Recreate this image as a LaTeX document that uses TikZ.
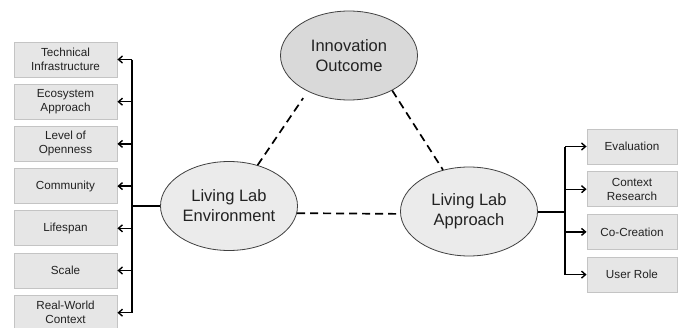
\documentclass[tikz,border=0pt]{standalone}
\usepackage{fontspec}
\setmainfont{Liberation Sans}
\usetikzlibrary{shapes.geometric,arrows.meta}
\definecolor{boxfill}{HTML}{E6E6E6}
\definecolor{boxedge}{HTML}{C4C4C4}
\definecolor{innfill}{HTML}{D9D9D9}
\definecolor{ellfill}{HTML}{EBEBEB}
\definecolor{elledge}{HTML}{404040}
\definecolor{txt}{HTML}{222222}
\begin{document}
\begin{tikzpicture}[x=1pt,y=-1pt,
  box/.style={draw=boxedge, fill=boxfill, line width=0.9pt, minimum height=35pt,
    inner sep=0pt, align=center, font=\fontsize{11.7}{14}\selectfont, text=txt},
  lbox/.style={box, minimum width=103pt},
  rbox/.style={box, minimum width=90pt},
  ell/.style={ellipse, draw=elledge, line width=0.8pt, fill=ellfill, inner sep=0pt,
    minimum width=137pt, minimum height=89pt, align=center,
    font=\fontsize{16.5}{20}\selectfont, text=txt},
  bus/.style={line width=1.6pt, black},
  arr/.style={line width=1.4pt, black, -{Straight Barb[length=4pt,width=7pt]}},
  link/.style={line width=1.7pt, black, dash pattern=on 8pt off 5pt}]
\clip (0,0) rectangle (678,327);
\fill[white] (0,0) rectangle (678,327);
% ellipses
\node[ell, fill=innfill] (inn) at (349,55.5) {Innovation\\Outcome};
\node[ell] (env) at (229,206) {Living Lab\\Environment};
\node[ell] (app) at (469,211.5) {Living Lab\\Approach};
% left boxes
\node[lbox] (l1) at (65.5,59.5) {Technical\\Infrastructure};
\node[lbox] (l2) at (65.5,101.7) {Ecosystem\\Approach};
\node[lbox] (l3) at (65.5,143.9) {Level of\\Openness};
\node[lbox] (l4) at (65.5,186.1) {Community};
\node[lbox] (l5) at (65.5,228.3) {Lifespan};
\node[lbox] (l6) at (65.5,270.5) {Scale};
\node[lbox] (l7) at (65.5,312.7) {Real-World\\Context};
% right boxes
\node[rbox] (r1) at (632,146.5) {Evaluation};
\node[rbox] (r2) at (632,189.2) {Context\\Research};
\node[rbox] (r3) at (632,231.9) {Co-Creation};
\node[rbox] (r4) at (632,274.6) {User Role};
% buses
\coordinate (lb) at (132,0);
\coordinate (rb) at (565,0);
\draw[bus] (lb |- l1) -- (lb |- l7);
\foreach \n in {l1,l2,l3,l4,l5,l6,l7}{\draw[arr] (lb |- \n) -- (\n.east);}
\draw[bus, line width=2pt] (env.west) -- (lb |- env.west);
\draw[bus] (rb |- r1) -- (rb |- r4);
\foreach \n in {r1,r2,r3,r4}{\draw[arr] (rb |- \n) -- (\n.west);}
\draw[bus, line width=2pt] (app.east) -- (rb |- app.east);
% dashed links
\draw[link, shorten >=8pt] (env.55) -- (inn.221);
\draw[link] (inn.321) -- (app.122);
\draw[link] (env.-6) -- (app.182);
\end{tikzpicture}
\end{document}
